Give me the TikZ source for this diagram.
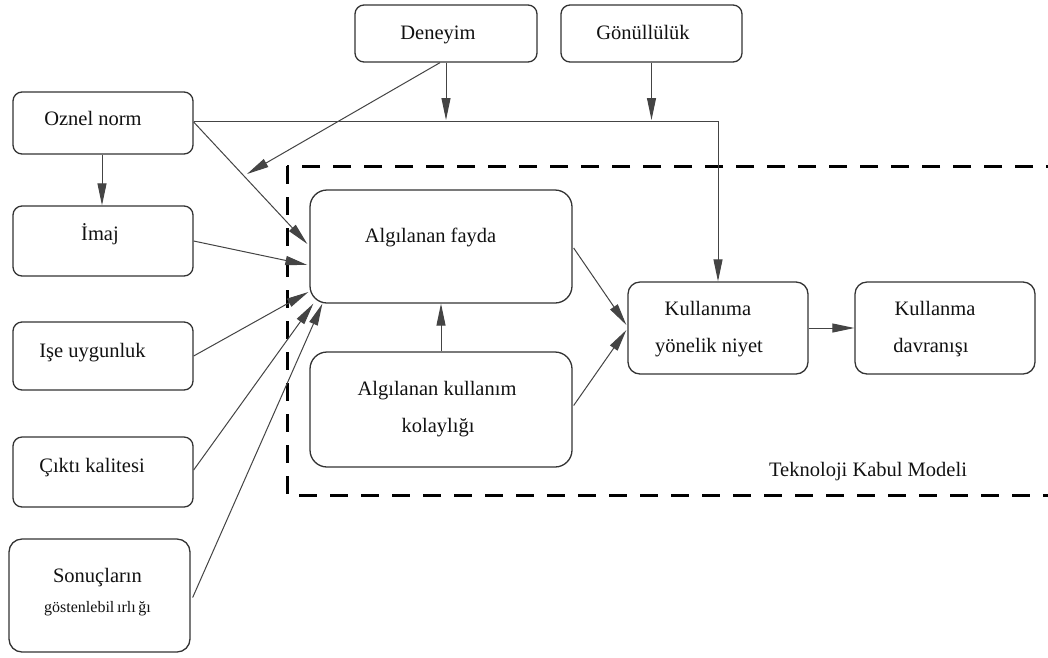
\documentclass[tikz,border=0pt]{standalone}
\usepackage{fontspec}
\setmainfont{Liberation Serif}
\usetikzlibrary{arrows.meta,calc}
\definecolor{ink}{HTML}{111111}
\definecolor{edge}{HTML}{333333}
\definecolor{wire}{HTML}{444444}

\begin{document}
\begin{tikzpicture}[x=1pt,y=-1pt,
  box/.style={draw=edge, line width=1.3pt, rounded corners=9pt, inner sep=0pt},
  bigbox/.style={box, rounded corners=17pt},
  txt/.style={text=ink, font=\fontsize{20.5}{24}\selectfont, anchor=base, inner sep=0pt},
  small/.style={txt, font=\fontsize{16}{19}\selectfont},
  arr/.style={draw=wire, line width=1pt, -{Triangle[length=22pt,width=9pt]}},
  frame/.style={draw=black, line width=3pt, dash pattern=on 18pt off 13pt}
]
\clip (0,0) rectangle (1048,657);
\fill[white] (0,0) rectangle (1048,657);

% dashed frame of the technology acceptance model
\draw[frame] (287,166) rectangle (1075,495);
\node[txt] (tkm) at (868,476) {Teknoloji Kabul Modeli};

% boxes
\node[box, minimum width=182pt, minimum height=57pt] (deneyim) at (446,33.5) {};
\node[box, minimum width=181pt, minimum height=57pt] (gonul) at (651.5,33.5) {};
\node[box, minimum width=180pt, minimum height=62pt] (oznel) at (103,123) {};
\node[box, minimum width=180pt, minimum height=70pt] (imaj) at (103,241) {};
\node[box, minimum width=180pt, minimum height=68pt] (ise) at (103,356) {};
\node[box, minimum width=180pt, minimum height=70pt] (cikti) at (103,472) {};
\node[box, rounded corners=13pt, minimum width=181pt, minimum height=113pt] (sonuc) at (99.5,595.5) {};
\node[bigbox, minimum width=262pt, minimum height=113pt] (fayda) at (441,246.5) {};
\node[bigbox, minimum width=262pt, minimum height=115pt] (kolay) at (441,409.5) {};
\node[box, rounded corners=12pt, minimum width=180pt, minimum height=92pt] (niyet) at (718,328) {};
\node[box, rounded corners=12pt, minimum width=180pt, minimum height=92pt] (davr) at (945,328) {};

% box labels
\node[txt] (tdeneyim) at (438,39) {Deneyim};
\node[txt] (tgonul) at (643,39) {Gönüllülük};
\node[txt] (toznel) at (93,125) {Oznel norm};
\node[txt] (timaj) at (100,240) {İmaj};
\node[txt] (tise) at (92.5,357) {Işe uygunluk};
\node[txt] (tcikti) at (92,472) {Çıktı kalitesi};
\node[txt] (tsonuc) at (97.5,582) {Sonuçların};
\node[small] (tsonucb) at (97.5,612) {göstenlebil\,ırlı\,ğı};
\node[txt] (tfayda) at (430.5,242) {Algılanan fayda};
\node[txt] (tkolay) at (437,395) {Algılanan kullanım};
\node[txt] (tkolayb) at (438,432) {kolaylığı};
\node[txt] (tniyet) at (708,315) {Kullanıma};
\node[txt] (tniyetb) at (709,352) {yönelik niyet};
\node[txt] (tdavr) at (935,315) {Kullanma};
\node[txt] (tdavrb) at (931,352) {davranışı};

% connectors
\coordinate (modpt) at (247,174);
\draw[arr] (oznel.south -| 102,0) -- (imaj.north -| 102,0);
\draw[arr] ($(oznel.east)+(0,-1.5)$) -| (niyet.north);
\draw[arr] (deneyim.south) -- (deneyim.south |- 0,120);
\draw[arr] (gonul.south) -- (gonul.south |- 0,120);
\draw[arr] ($(deneyim.south)+(-6,0)$) -- (modpt);
\draw[arr] ($(oznel.east)+(0,-1)$) -- ($(fayda.west)+(-2,-2.5)$);
\draw[arr] (imaj.east) -- ($(fayda.west)+(-2,18.5)$);
\draw[arr] (ise.east) -- ($(fayda.west)+(-1,45.5)$);
\draw[arr] ($(cikti.east)+(0,-2)$) -- ($(fayda.south west)+(4,0)$);
\draw[arr] ($(sonuc.east)+(2,2)$) -- ($(fayda.south west)+(13,0)$);
\draw[arr] (kolay.north) -- (fayda.south);
\draw[arr] ($(fayda.east)+(1,1.5)$) -- ($(niyet.west)+(-1,-3)$);
\draw[arr] ($(kolay.east)+(1,-4)$) -- ($(niyet.west)+(-1,2)$);
\draw[arr] (niyet.east) -- (davr.west);
\end{tikzpicture}
\end{document}
